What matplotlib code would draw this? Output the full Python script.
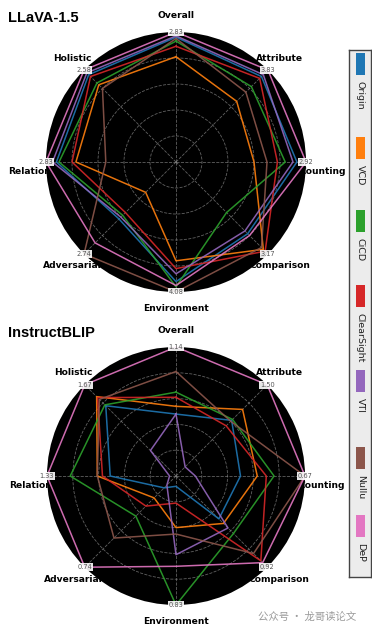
#!/usr/bin/env python3
"""
Radar charts: hallucination benchmark scores for LLaVA-1.5 and InstructBLIP.
"""

import matplotlib

matplotlib.use("Agg")
import matplotlib.pyplot as plt
import matplotlib.transforms as mtransforms
import numpy as np
from matplotlib.patches import Rectangle

categories = ["Overall", "Attribute", "Counting", "Comparison",
              "Environment", "Adversarial", "Relation", "Holistic"]
methods = ["Origin", "VCD", "CiCD", "ClearSight", "VTI", "Nullu", "DeP"]
colors = ["#1f77b4", "#ff7f0e", "#2ca02c", "#d62728", "#9467bd", "#8c564b", "#e377c2"]

# axis maxima shown on the outer ring
llava_max = [2.83, 3.83, 2.92, 3.17, 4.08, 2.74, 2.83, 2.58]
blip_max = [1.14, 1.50, 0.67, 0.92, 0.83, 0.74, 1.33, 1.67]

# scores normalised by the axis maximum
llava_origin = [0.96, 0.93, 0.93, 0.78, 0.92, 0.62, 0.92, 0.95]
llava_vcd = [0.81, 0.66, 0.60, 0.95, 0.76, 0.33, 0.77, 0.84]
llava_cicd = [0.93, 0.82, 0.84, 0.55, 0.96, 0.58, 0.90, 0.86]
llava_clearsight = [0.89, 0.91, 0.78, 0.97, 0.82, 0.55, 0.80, 0.93]
llava_vti = [0.97, 0.95, 0.90, 0.75, 0.86, 0.60, 0.95, 0.97]
llava_nullu = [0.95, 0.76, 0.70, 0.93, 1.00, 1.00, 0.54, 0.80]
llava_dep = [1.00, 1.00, 1.00, 0.80, 0.95, 0.88, 1.00, 1.00]

blip_origin = [0.48, 0.61, 0.50, 0.47, 0.08, 0.13, 0.51, 0.77]
blip_vcd = [0.54, 0.73, 0.63, 0.52, 0.40, 0.24, 0.61, 0.87]
blip_cicd = [0.65, 0.62, 0.76, 0.63, 1.00, 0.44, 0.82, 0.78]
blip_clearsight = [0.61, 0.55, 0.70, 0.93, 0.21, 0.33, 0.57, 0.86]
blip_vti = [0.48, 0.10, 0.15, 0.57, 0.61, 0.10, 0.05, 0.28]
blip_nullu = [0.81, 0.60, 1.00, 0.85, 0.45, 0.68, 0.61, 0.84]
blip_dep = [1.00, 1.00, 1.00, 0.95, 0.70, 1.00, 1.00, 1.00]

llava_scores = [llava_origin, llava_vcd, llava_cicd, llava_clearsight,
                llava_vti, llava_nullu, llava_dep]
blip_scores = [blip_origin, blip_vcd, blip_cicd, blip_clearsight,
               blip_vti, blip_nullu, blip_dep]

W, H = 372, 633
fig = plt.figure(figsize=(W / 100, H / 100), dpi=100)


def px_rect(left, top, width, height):
    return [left / W, 1 - (top + height) / H, width / W, height / H]


def radar(rect, scores, maxima, title, title_y):
    ax = fig.add_axes(rect, projection="polar")
    angles = np.linspace(0, 2 * np.pi, len(categories), endpoint=False)
    ax.set_theta_offset(np.pi / 2)
    ax.set_theta_direction(-1)
    ax.set_facecolor("black")
    ax.spines["polar"].set_visible(False)
    ax.set_ylim(0, 1.0)
    ax.set_xticks(angles)
    ax.set_xticklabels([])
    ax.set_yticks([0.2, 0.4, 0.6, 0.8])
    ax.set_yticklabels([])
    ax.grid(color="#8a8a8a", linestyle="--", linewidth=0.6, alpha=0.7)

    closed = np.append(angles, angles[0])
    for vals, color in zip(scores, colors):
        r = np.append(vals, vals[0])
        ax.plot(closed, r, color=color, linewidth=1.1, alpha=0.9, clip_on=False)

    for ang, m in zip(angles, maxima):
        ax.text(ang, 1.0, f"{m:.2f}", fontsize=4.8, color="#555555",
                ha="center", va="center", zorder=5,
                bbox=dict(facecolor="white", edgecolor="none", pad=0.6, alpha=0.9))

    # category labels sit under the black disc, as in the original
    for ang, name in zip(angles, categories):
        trans = ax.transData
        if name in ("Counting", "Relation"):
            trans = mtransforms.offset_copy(ax.transData, fig=fig, y=-7, units="points")
        fig.text(ang, 1.13, name, transform=trans, fontsize=6.6, fontweight="bold",
                 ha="center", va="center", zorder=-1)

    fig.text(8 / W, 1 - title_y / H, title, fontsize=10.5, fontweight="bold",
             family="Liberation Sans", ha="left", va="center")
    return ax


radar(px_rect(46, 32, 260, 260), llava_scores, llava_max, "LLaVA-1.5", 18)
radar(px_rect(47, 347, 258, 258), blip_scores, blip_max, "InstructBLIP", 333)

# vertical legend on the right (pixel coordinates inside the box)
leg_top, leg_bottom = 50, 577
lax = fig.add_axes(px_rect(349, leg_top, 22, leg_bottom - leg_top))
lax.set_xlim(0, 22)
lax.set_ylim(leg_bottom - leg_top, 0)
lax.set_facecolor("#ececec")
lax.set_xticks([])
lax.set_yticks([])
for s in lax.spines.values():
    s.set_color("#444444")
    s.set_linewidth(1.0)
patch_tops = [53, 137, 210, 285, 370, 447, 515]
for name, color, top in zip(methods, colors, patch_tops):
    y0 = top - leg_top
    lax.add_patch(Rectangle((7, y0), 9, 22, facecolor=color, edgecolor="none"))
    lax.text(11.5, y0 + 28, name, rotation=-90, fontsize=6.8, color="#222222",
             ha="center", va="top")

fig.text(258 / W, 1 - 617 / H, "公众号 · 龙哥读论文", fontsize=7.5, color="#9a9a9a",
         family=["Noto Sans CJK SC", "DejaVu Sans"], ha="left", va="center")

fig.savefig("out.png", dpi=100)
